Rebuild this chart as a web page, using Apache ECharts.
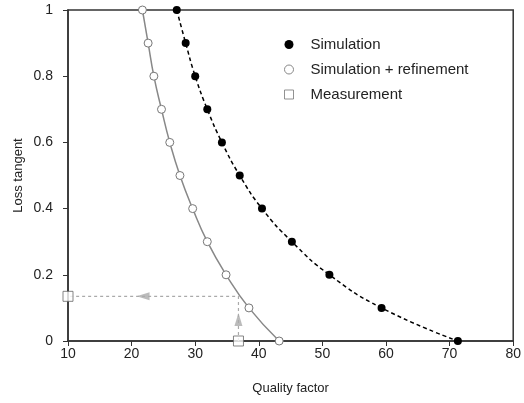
<!DOCTYPE html>
<html>
<head>
<meta charset="utf-8">
<script src="https://cdn.jsdelivr.net/npm/echarts@6/dist/echarts.min.js"></script>
<style>html,body{margin:0;padding:0;background:#fff}#c{width:524px;height:403px}</style>
</head>
<body>
<div id="c"></div>
<script>
// Data
const lossTangent = [1.0, 0.9, 0.8, 0.7, 0.6, 0.5, 0.4, 0.3, 0.2, 0.1, 0.0];
const simQ = [27.1, 28.5, 30.0, 31.9, 34.2, 37.0, 40.5, 45.2, 51.1, 59.3, 71.3];
const refQ = [21.7, 22.6, 23.5, 24.7, 26.0, 27.6, 29.6, 31.9, 34.85, 38.45, 43.2];
const measQ = [10, 36.8];
const measTan = [0.135, 0];
const guideQ = [36.8, 36.8, 10];
const guideTan = [0, 0.135, 0.135];
const headQ = [36.8, 21.8];
const headTan = [0.065, 0.135];
const headRot = [0, 90];
const xTicks = [10, 20, 30, 40, 50, 60, 70, 80];
const yTicks = [0, 0.2, 0.4, 0.6, 0.8, 1];

const zip = (a, b) => a.map((v, i) => [v, b[i]]);
const font = 'Liberation Sans, Arial, sans-serif';
const axisColor = '#333';

const chart = echarts.init(document.getElementById('c'), null, {renderer: 'canvas'});
chart.setOption({
  animation: false,
  backgroundColor: '#fff',
  grid: {left: 68, right: 9, top: 10, bottom: 62, show: true, borderColor: axisColor, borderWidth: 1.5, containLabel: false},
  legend: {
    orient: 'vertical', left: 279, top: 32, itemGap: 10, itemWidth: 9, itemHeight: 9,
    textStyle: {fontFamily: font, fontSize: 15, color: '#222', padding: [0, 0, 0, 12]},
    data: [
      {name: 'Simulation', icon: 'circle', itemStyle: {color: '#000', borderWidth: 0}},
      {name: 'Simulation + refinement', icon: 'circle', itemStyle: {color: '#fff', borderColor: '#888', borderWidth: 1}},
      {name: 'Measurement', icon: 'rect', itemStyle: {color: '#fff', borderColor: '#777', borderWidth: 1}}
    ]
  },
  xAxis: {
    type: 'value', min: xTicks[0], max: xTicks[xTicks.length - 1], interval: 10,
    name: 'Quality factor', nameLocation: 'middle', nameGap: 41,
    nameTextStyle: {fontFamily: font, fontSize: 13, color: '#222'},
    axisLine: {show: true, lineStyle: {color: axisColor, width: 1.5}},
    axisTick: {show: true, length: 5, lineStyle: {color: axisColor, width: 1}},
    axisLabel: {fontFamily: font, fontSize: 14, color: '#222', margin: 6},
    splitLine: {show: false}
  },
  yAxis: {
    type: 'value', min: yTicks[0], max: yTicks[yTicks.length - 1], interval: 0.2,
    name: 'Loss tangent', nameLocation: 'middle', nameGap: 43, nameMoveOverlap: false,
    nameTextStyle: {fontFamily: font, fontSize: 13, color: '#222'},
    axisLine: {show: true, lineStyle: {color: axisColor, width: 1.5}},
    axisTick: {show: true, length: 5, lineStyle: {color: axisColor, width: 1}},
    axisLabel: {fontFamily: font, fontSize: 14, color: '#222', margin: 15, formatter: v => String(+v.toFixed(1))},
    splitLine: {show: false}
  },
  series: [
    {
      name: 'guide', type: 'line', data: zip(guideQ, guideTan), symbol: 'none', silent: true,
      lineStyle: {color: '#aaa', width: 1.2, type: [3, 3]}, z: 1
    },
    {
      name: 'heads', type: 'scatter', silent: true, z: 2,
      data: headQ.map((q, i) => ({value: [q, headTan[i]], symbolRotate: headRot[i]})),
      symbol: 'triangle', symbolSize: [8, 13], itemStyle: {color: '#aaa'}
    },
    {
      name: 'Simulation + refinement', type: 'line', smooth: true, data: zip(refQ, lossTangent),
      symbol: 'circle', symbolSize: 8, showAllSymbol: true,
      lineStyle: {color: '#888', width: 1.5},
      itemStyle: {color: '#fff', borderColor: '#777', borderWidth: 1}, z: 3
    },
    {
      name: 'Simulation', type: 'line', smooth: true, data: zip(simQ, lossTangent),
      symbol: 'circle', symbolSize: 8, showAllSymbol: true,
      lineStyle: {color: '#000', width: 1.5, type: [4, 3]},
      itemStyle: {color: '#000', borderColor: '#000', borderWidth: 0}, z: 3
    },
    {
      name: 'Measurement', type: 'scatter', data: zip(measQ, measTan),
      symbol: 'rect', symbolSize: 10, clip: false,
      itemStyle: {color: '#fff', borderColor: '#666', borderWidth: 1}, z: 4
    }
  ]
});
</script>
</body>
</html>
